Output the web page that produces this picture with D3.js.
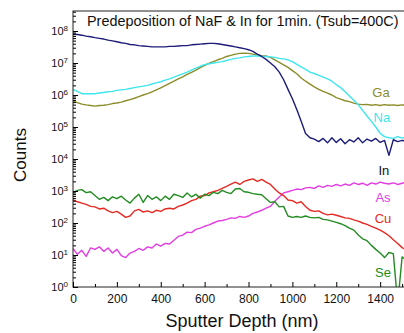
<!DOCTYPE html>
<html>
<head>
<meta charset="utf-8">
<script src="https://cdn.jsdelivr.net/npm/d3@7"></script>
<style>
  body { margin: 0; background: #fff; }
  svg { display: block; font-family: "Liberation Sans", Arial, sans-serif; }
</style>
</head>
<body>
<div id="chart"></div>
<script>
// sputter depth (nm), shared by all profiles
const depth = [
  0, 20, 40, 60, 80, 100, 120, 140, 160, 180,
  200, 220, 240, 260, 280, 300, 320, 340, 360, 380,
  400, 420, 440, 460, 480, 500, 520, 540, 560, 580,
  600, 620, 640, 660, 680, 700, 720, 740, 760, 780,
  800, 820, 840, 860, 880, 900, 920, 940, 960, 980,
  1000, 1020, 1040, 1060, 1080, 1100, 1120, 1140, 1160, 1180,
  1200, 1220, 1240, 1260, 1280, 1300, 1320, 1340, 1360, 1380,
  1400, 1420, 1440, 1460, 1480, 1500, 1520
];

// counts per element
const inCounts = [
  8.1e7, 7.8e7, 7.4e7, 6.9e7, 6.6e7, 6.2e7, 5.9e7, 5.6e7, 5.2e7, 4.9e7,
  4.6e7, 4.3e7, 4.1e7, 3.8e7, 3.7e7, 3.5e7, 3.4e7, 3.3e7, 3.2e7, 3.2e7,
  3.2e7, 3.2e7, 3.3e7, 3.3e7, 3.4e7, 3.5e7, 3.5e7, 3.7e7, 3.8e7, 3.9e7,
  4.0e7, 4.1e7, 4.1e7, 4.0e7, 3.8e7, 3.6e7, 3.4e7, 3.2e7, 3.0e7, 2.8e7,
  2.6e7, 2.3e7, 1.9e7, 1.6e7, 1.3e7, 1.0e7, 7.6e6, 5.2e6, 3.0e6, 1.5e6,
  7.6e5, 3.5e5, 1.5e5, 6.3e4, 4.6e4, 4.2e4, 3.5e4, 4.4e4, 3.2e4, 4.6e4,
  3.3e4, 4.3e4, 3.0e4, 4.0e4, 3.4e4, 4.6e4, 3.2e4, 4.2e4, 3.6e4, 4.4e4,
  3.3e4, 3.8e4, 1.3e4, 4.0e4, 3.5e4, 3.8e4, 3.6e4
];
const naCounts = [
  1.5e6, 1.3e6, 1.1e6, 1.1e6, 1.1e6, 1.1e6, 1.15e6, 1.2e6, 1.26e6, 1.3e6,
  1.4e6, 1.45e6, 1.5e6, 1.6e6, 1.7e6, 1.8e6, 1.9e6, 2.0e6, 2.2e6, 2.4e6,
  2.6e6, 2.9e6, 3.2e6, 3.6e6, 4.1e6, 4.6e6, 5.2e6, 6.0e6, 6.9e6, 7.9e6,
  8.9e6, 9.5e6, 1.0e7, 1.05e7, 1.1e7, 1.2e7, 1.3e7, 1.4e7, 1.45e7, 1.55e7,
  1.6e7, 1.65e7, 1.65e7, 1.6e7, 1.6e7, 1.55e7, 1.5e7, 1.4e7, 1.35e7, 1.25e7,
  1.1e7, 9.1e6, 7.6e6, 6.3e6, 5.2e6, 4.7e6, 4.1e6, 3.6e6, 3.2e6, 2.7e6,
  2.1e6, 1.7e6, 1.26e6, 9.3e5, 6.9e5, 5.0e5, 3.3e5, 2.2e5, 1.5e5, 1.0e5,
  6.3e4, 5.0e4, 4.6e4, 4.4e4, 5.0e4, 4.5e4, 5.0e4
];
const gaCounts = [
  6.6e5, 5.8e5, 5.2e5, 4.9e5, 4.7e5, 4.5e5, 4.7e5, 4.8e5, 5.0e5, 5.4e5,
  5.6e5, 6.0e5, 6.6e5, 7.2e5, 7.9e5, 8.9e5, 1.0e6, 1.1e6, 1.26e6, 1.45e6,
  1.66e6, 1.95e6, 2.3e6, 2.7e6, 3.2e6, 3.7e6, 4.4e6, 5.1e6, 6.0e6, 7.2e6,
  8.5e6, 9.8e6, 1.1e7, 1.26e7, 1.4e7, 1.6e7, 1.74e7, 1.9e7, 2.0e7, 2.04e7,
  2.0e7, 1.9e7, 1.8e7, 1.7e7, 1.65e7, 1.5e7, 1.25e7, 1.05e7, 8.8e6, 7.3e6,
  5.8e6, 4.6e6, 3.4e6, 2.7e6, 2.2e6, 1.8e6, 1.5e6, 1.3e6, 1.15e6, 1.0e6,
  8.3e5, 7.4e5, 6.6e5, 6.2e5, 5.6e5, 5.2e5, 5.0e5, 5.1e5, 4.8e5, 5.0e5,
  4.7e5, 5.0e5, 4.8e5, 4.9e5, 4.7e5, 4.9e5, 4.8e5
];
const asCounts = [
  16, 10.5, 14, 9.1, 16.6, 15, 18, 13, 16.6, 11.5,
  15, 9.5, 8.3, 11.5, 13, 16, 14, 18, 16.6, 22,
  19, 23, 22, 29, 38, 42, 52, 50, 63, 69,
  79, 87, 100, 115, 120, 130, 145, 140, 160, 150,
  165, 200, 220, 250, 290, 330, 480, 650, 870, 950,
  1050, 1150, 1100, 1250, 1300, 1200, 1450, 1300, 1500, 1400,
  1600, 1450, 1650, 1500, 1800, 1600, 1750, 1500, 1800, 1650,
  1900, 1750, 1650, 1800, 1600, 1750, 1900
];
const cuCounts = [
  525, 460, 420, 380, 330, 320, 275, 290, 240, 210,
  230, 190, 150, 165, 240, 265, 220, 240, 210, 250,
  230, 275, 290, 275, 330, 365, 420, 500, 550, 690,
  720, 870, 950, 1050, 1200, 1400, 1650, 1900, 1600, 2000,
  2200, 2400, 2000, 2300, 1900, 1600, 1150, 870, 720, 525,
  500, 420, 460, 330, 250, 230, 240, 200, 180, 190,
  175, 160, 145, 140, 125, 115, 100, 91, 79, 69,
  60, 50, 40, 30, 23, 17, 14
];
const seCounts = [
  870, 1050, 1100, 890, 950, 720, 550, 630, 500, 660,
  575, 690, 525, 420, 600, 790, 440, 720, 550, 660,
  500, 690, 550, 790, 720, 630, 870, 660, 790, 600,
  790, 720, 910, 830, 1050, 910, 830, 1150, 1200, 950,
  910, 830, 790, 760, 575, 440, 460, 320, 330, 165,
  150, 160, 150, 165, 150, 145, 150, 130, 125, 115,
  105, 95, 83, 69, 60, 42, 32, 28, 20, 15,
  11.5, 8.3, 12, 11, 0.3, 8.7, 6.9
];

const seriesNames = ['Ga', 'Na', 'In', 'As', 'Cu', 'Se'];
const seriesValues = [gaCounts, naCounts, inCounts, asCounts, cuCounts, seCounts];
const seriesColours = ['#8c8c2a', '#3ee6ee', '#1c1c78', '#e23ce2', '#e42a22', '#228c22'];
const labelColours = ['#8c8c2a', '#3ee6ee', '#111111', '#e23ce2', '#e42a22', '#228c22'];
// where each name sits, in data units (depth, counts)
const labelAt = [[1404, 8.7e5], [1408, 1.45e5], [1417, 3.2e3], [1413, 4.6e2], [1413, 1.0e2], [1413, 2.0]];

const xTicks = [0, 200, 400, 600, 800, 1000, 1200, 1400];
const yTicks = [1e0, 1e1, 1e2, 1e3, 1e4, 1e5, 1e6, 1e7, 1e8];

const width = 404;
const height = 333;
const plotLeft = 73, plotTop = 11, plotBottom = 287;
const plotRight = 73 + 1520 * 0.2194;

const xScale = d3.scaleLinear()
                    .domain([0, 1520])
                    .range([plotLeft, plotRight]);

const yScale = d3.scaleLog()
                    .domain([1, Math.pow(10, 8.625)])
                    .range([plotBottom, plotTop]);

const svg = d3.select('#chart')
                .append('svg')
                    .attr('width', width)
                    .attr('height', height);

svg.append('clipPath')
    .attr('id', 'plot-clip')
  .append('rect')
    .attr('x', plotLeft)
    .attr('y', plotTop)
    .attr('width', plotRight - plotLeft)
    .attr('height', plotBottom - plotTop);

// profiles
const line = d3.line()
                .x((d) => xScale(d[0]))
                .y((d) => yScale(d[1]));

const lines = svg.append('g').attr('clip-path', 'url(#plot-clip)');
seriesValues.forEach((vals, i) => {
    lines.append('path')
        .datum(depth.map((d, j) => [d, vals[j]]))
        .attr('d', line)
        .attr('fill', 'none')
        .attr('stroke', seriesColours[i])
        .attr('stroke-width', 1.4)
        .attr('stroke-linejoin', 'round');
});

// frame
svg.append('rect')
    .attr('x', plotLeft)
    .attr('y', plotTop)
    .attr('width', plotRight - plotLeft)
    .attr('height', plotBottom - plotTop)
    .attr('fill', 'none')
    .attr('stroke', '#222')
    .attr('stroke-width', 1);

// x-axis, minor then major
svg.append('g')
    .attr('transform', `translate(0, ${plotBottom})`)
    .call(d3.axisBottom(xScale).tickValues([100, 300, 500, 700, 900, 1100, 1300, 1500]).tickSize(-3).tickFormat(''))
    .call((g) => g.select('.domain').remove());

const xAxis = svg.append('g')
    .attr('transform', `translate(0, ${plotBottom})`)
    .call(d3.axisBottom(xScale).tickValues(xTicks).tickSize(-5).tickPadding(7).tickFormat(d3.format('d')));
xAxis.select('.domain').remove();
xAxis.selectAll('text')
    .attr('font-size', 12)
    .attr('font-family', '"Liberation Sans", Arial, sans-serif')
    .attr('fill', '#111');

// y-axis, log minors then decades
const yMinor = [];
yTicks.forEach((t) => {
    for (let k = 2; k <= 9; k++) {
        if (t * k < yScale.domain()[1]) yMinor.push(t * k);
    }
});
svg.append('g')
    .attr('transform', `translate(${plotLeft}, 0)`)
    .call(d3.axisLeft(yScale).tickValues(yMinor).tickSize(-3).tickFormat(''))
    .call((g) => g.select('.domain').remove());

const yAxis = svg.append('g')
    .attr('transform', `translate(${plotLeft}, 0)`)
    .call(d3.axisLeft(yScale).tickValues(yTicks).tickSize(-5).tickPadding(5).tickFormat(''));
yAxis.select('.domain').remove();
yAxis.selectAll('.tick text')
    .attr('font-size', 11)
    .attr('font-family', '"Liberation Sans", Arial, sans-serif')
    .attr('fill', '#111')
    .each(function (d) {
        const t = d3.select(this);
        t.append('tspan').text('10');
        t.append('tspan')
            .attr('font-size', 8)
            .attr('dy', '-0.55em')
            .text(Math.round(Math.log10(d)));
    });

// title inside the frame
svg.append('text')
    .attr('x', 87)
    .attr('y', 26)
    .attr('font-size', 14.4)
    .attr('fill', '#111')
    .text('Predeposition of NaF & In for 1min. (Tsub=400C)');

// axis titles
svg.append('text')
    .attr('x', 242)
    .attr('y', 327)
    .attr('text-anchor', 'middle')
    .attr('font-size', 18)
    .attr('fill', '#111')
    .text('Sputter Depth (nm)');

svg.append('text')
    .attr('transform', 'rotate(-90)')
    .attr('x', -155)
    .attr('y', 26)
    .attr('text-anchor', 'middle')
    .attr('font-size', 17)
    .attr('fill', '#111')
    .text('Counts');

// element names
seriesNames.forEach((name, i) => {
    svg.append('text')
        .attr('x', xScale(labelAt[i][0]))
        .attr('y', yScale(labelAt[i][1]))
        .attr('text-anchor', 'middle')
        .attr('font-size', 13)
        .attr('fill', labelColours[i])
        .text(name);
});
</script>
</body>
</html>
